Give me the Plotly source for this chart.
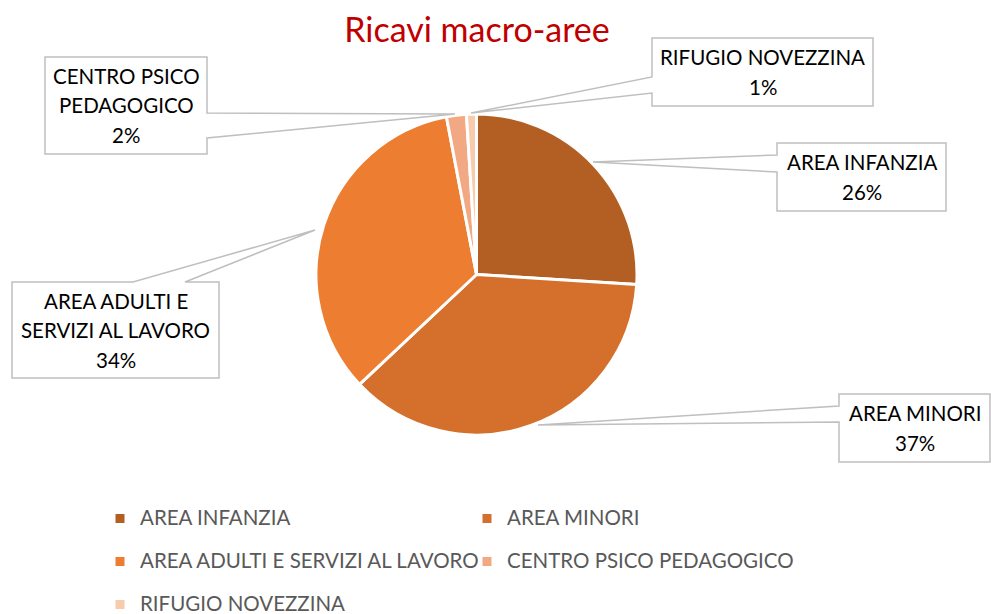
import plotly.graph_objects as go

W, H = 991, 614

# ---- data ----
categories = ["AREA INFANZIA", "AREA MINORI", "AREA ADULTI E SERVIZI AL LAVORO",
              "CENTRO PSICO PEDAGOGICO", "RIFUGIO NOVEZZINA"]
values = [26, 37, 34, 2, 1]
colors = ["#B35E22", "#D46F2C", "#ED7D31", "#F2A883", "#F8CBAD"]
# label wrapping used inside the callouts
callout_lines = [["AREA INFANZIA"], ["AREA MINORI"], ["AREA ADULTI E", "SERVIZI AL LAVORO"],
                 ["CENTRO PSICO", "PEDAGOGICO"], ["RIFUGIO NOVEZZINA"]]

FONT = "Lato"
TXT_SIZE = 20.5
LEG_BASE = 15.4


def px(x):
    return x / W


def py(y):
    return 1 - y / H


# ---- callout layout (pixel boxes + pointer) ----
# box: x0, y0, x1, y1 ; pointer: side, a, b, tip(x, y)
callouts = [
    dict(box=(777, 143, 946, 211), side="left", a=155, b=172, tip=(593, 162)),
    dict(box=(839, 394, 990, 462), side="left", a=406, b=422, tip=(538, 425)),
    dict(box=(12, 282, 219, 378), side="top", a=133, b=185, tip=(315, 230)),
    dict(box=(45, 57, 207, 154), side="right", a=113, b=138, tip=(455, 114)),
    dict(box=(652, 38, 873, 106), side="left", a=77, b=93, tip=(471, 113)),
]

total = sum(values)
legend_labels = []
for i, c in enumerate(categories):
    lab = f"<span style='font-size:{TXT_SIZE}px'>{c}</span>"
    if i < 4:
        lab += "<br> "
    legend_labels.append(lab)

cx, cy, r = 476.5, 274.5, 160.5
fig = go.Figure(go.Pie(
    labels=legend_labels, values=values, sort=False, direction="clockwise", rotation=0,
    marker=dict(colors=colors, line=dict(color="white", width=3)),
    textinfo="none", hoverinfo="percent",
    domain=dict(x=[px(cx - r), px(cx + r)], y=[py(cy + r), py(cy - r)]),
))

shapes = []
annotations = []
for cat_i, co in enumerate(callouts):
    x0, y0, x1, y1 = co["box"]
    tx, ty = co["tip"]
    a, b = co["a"], co["b"]
    if co["side"] == "left":
        pts = [(x0, y0), (x1, y0), (x1, y1), (x0, y1), (x0, b), (tx, ty), (x0, a)]
    elif co["side"] == "right":
        pts = [(x0, y0), (x1, y0), (x1, a), (tx, ty), (x1, b), (x1, y1), (x0, y1)]
    else:  # top
        pts = [(x0, y0), (a, y0), (tx, ty), (b, y0), (x1, y0), (x1, y1), (x0, y1)]
    path = "M " + " L ".join(f"{px(x):.5f},{py(y):.5f}" for x, y in pts) + " Z"
    shapes.append(dict(type="path", xref="paper", yref="paper", path=path,
                       fillcolor="white", line=dict(color="#BFBFBF", width=1.5), layer="above"))
    lines = callout_lines[cat_i] + [f"{values[cat_i] / total * 100:.0f}%"]
    n = len(lines)
    mx = (x0 + x1) / 2
    my = (y0 + y1) / 2
    step = 29.5
    for k, t in enumerate(lines):
        yy = my + (k - (n - 1) / 2) * step
        annotations.append(dict(text=t, x=px(mx), y=py(yy), xref="paper", yref="paper",
                                xanchor="center", yanchor="middle", showarrow=False,
                                font=dict(family=FONT, size=TXT_SIZE, color="#000000")))

fig.update_layout(
    width=W, height=H,
    margin=dict(l=0, r=0, t=0, b=0, autoexpand=False),
    paper_bgcolor="white", plot_bgcolor="white",
    title=dict(text="Ricavi macro-aree", x=px(477), xanchor="center", y=py(30), yanchor="middle",
               yref="container", font=dict(family=FONT, size=34, color="#C00000")),
    showlegend=True,
    legend=dict(orientation="h", x=px(100), xanchor="left", y=py(502), yanchor="top",
                entrywidth=322, entrywidthmode="pixels", valign="top",
                font=dict(family=FONT, size=LEG_BASE, color="#595959"),
                bgcolor="rgba(0,0,0,0)", traceorder="normal"),
    shapes=shapes, annotations=annotations,
)

fig.write_html("out.html", post_script="document.body.style.margin='0';",
               config={"displayModeBar": False})
